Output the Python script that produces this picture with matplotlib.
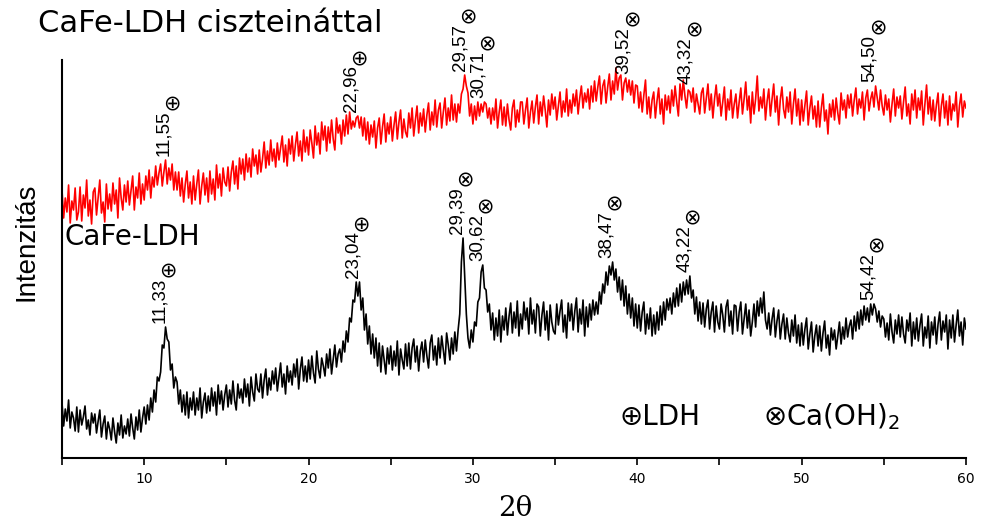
import numpy as np
import matplotlib
matplotlib.use("Agg")
import matplotlib.pyplot as plt
from matplotlib import font_manager as fm

# ---------------- data ----------------
two_theta_start = 5.0
two_theta_end = 60.0

# CaFe-LDH (black), arbitrary intensity, one value every 0.1 deg (5.0 ... 60.0)
ldh = [
    67, 44, 61, 49, 70, 42, 58, 52, 39, 63,
    38, 60, 45, 53, 64, 41, 50, 35, 57, 47,
    56, 37, 49, 60, 33, 46, 54, 31, 48, 41,
    30, 52, 38, 27, 47, 35, 55, 32, 44, 36,
    51, 34, 56, 42, 31, 53, 40, 60, 38, 52,
    63, 46, 65, 50, 72, 58, 80, 68, 93, 89,
    98, 125, 122, 143, 131, 128, 100, 106, 82, 93,
    88, 66, 80, 58, 75, 55, 78, 52, 72, 60,
    78, 55, 72, 60, 82, 52, 68, 77, 57, 74,
    59, 82, 64, 78, 55, 85, 66, 79, 60, 75,
    85, 63, 80, 66, 89, 70, 60, 86, 72, 81,
    67, 91, 73, 86, 64, 93, 78, 69, 96, 81,
    78, 96, 72, 90, 101, 75, 92, 80, 99, 86,
    102, 79, 93, 107, 83, 96, 76, 104, 88, 99,
    85, 106, 93, 111, 81, 101, 113, 89, 104, 88,
    110, 91, 114, 97, 87, 119, 101, 92, 112, 104,
    94, 116, 102, 121, 96, 111, 125, 103, 116, 121,
    108, 129, 118, 139, 128, 152, 148, 170, 168, 188,
    174, 188, 160, 172, 140, 156, 126, 144, 116, 136,
    112, 132, 104, 127, 98, 124, 110, 96, 122, 106,
    124, 100, 119, 104, 129, 95, 121, 110, 101, 126,
    104, 127, 101, 122, 131, 108, 124, 99, 119, 128,
    108, 130, 114, 102, 127, 135, 110, 124, 105, 132,
    112, 134, 120, 106, 137, 125, 110, 132, 116, 138,
    119, 140, 156, 208, 232, 194, 156, 132, 122, 140,
    128, 148, 144, 168, 172, 198, 205, 182, 180, 158,
    166, 140, 157, 130, 152, 134, 160, 128, 154, 140,
    162, 135, 154, 167, 137, 158, 142, 169, 134, 156,
    141, 168, 150, 162, 136, 172, 146, 160, 137, 166,
    163, 134, 155, 168, 140, 159, 130, 165, 148, 139,
    136, 166, 145, 159, 170, 138, 155, 132, 167, 149,
    166, 140, 159, 172, 138, 161, 146, 170, 134, 163,
    143, 166, 150, 170, 155, 168, 156, 178, 166, 186,
    177, 198, 185, 204, 195, 208, 190, 201, 178, 193,
    170, 190, 164, 184, 156, 176, 152, 172, 144, 166,
    142, 165, 139, 158, 168, 136, 156, 141, 162, 134,
    155, 136, 158, 140, 164, 145, 168, 150, 171, 160,
    172, 156, 177, 163, 182, 164, 186, 168, 188, 175,
    190, 176, 194, 172, 180, 156, 173, 149, 168, 146,
    167, 143, 161, 170, 141, 158, 168, 138, 164, 148,
    141, 166, 155, 138, 163, 170, 144, 159, 136, 165,
    164, 139, 158, 168, 136, 151, 166, 142, 160, 134,
    148, 166, 143, 169, 154, 172, 157, 178, 150, 141,
    157, 135, 151, 162, 133, 149, 160, 131, 146, 156,
    131, 152, 137, 128, 150, 134, 155, 127, 145, 124,
    147, 125, 141, 152, 121, 136, 148, 118, 134, 145,
    124, 144, 119, 137, 149, 122, 135, 115, 142, 130,
    140, 121, 134, 148, 126, 143, 131, 152, 133, 144,
    150, 131, 154, 139, 158, 141, 160, 145, 164, 150,
    162, 148, 166, 155, 166, 161, 148, 159, 143, 154,
    151, 133, 147, 130, 156, 138, 127, 150, 136, 155,
    133, 153, 136, 127, 150, 139, 157, 124, 148, 131,
    152, 129, 145, 156, 124, 143, 132, 154, 122, 148,
    135, 153, 126, 146, 158, 130, 149, 138, 155, 121,
    150, 132, 155, 128, 145, 160, 134, 148, 125, 152,
    141,
]

# CaFe-LDH ciszteináttal (red), same grid
ldh_cys = [
    280, 252, 272, 258, 285, 247, 269, 260, 282, 250,
    258, 283, 249, 275, 262, 290, 254, 270, 246, 278,
    282, 255, 272, 290, 257, 268, 248, 286, 261, 276,
    259, 287, 266, 280, 252, 292, 272, 260, 285, 268,
    289, 265, 280, 294, 260, 283, 272, 297, 266, 286,
    270, 294, 280, 300, 272, 293, 283, 304, 285, 297,
    306, 284, 298, 310, 286, 302, 290, 306, 280, 298,
    280, 298, 274, 292, 268, 286, 299, 272, 288, 266,
    294, 270, 286, 300, 266, 284, 297, 275, 292, 268,
    299, 276, 291, 270, 305, 282, 296, 274, 302, 288,
    284, 303, 279, 298, 309, 286, 304, 281, 312, 296,
    311, 290, 316, 298, 312, 293, 321, 304, 315, 296,
    320, 298, 311, 328, 302, 319, 305, 330, 309, 321,
    303, 327, 310, 322, 334, 308, 325, 304, 331, 316,
    334, 309, 325, 338, 314, 329, 309, 340, 318, 333,
    315, 340, 327, 312, 344, 325, 337, 316, 348, 330,
    344, 319, 343, 327, 350, 331, 320, 352, 337, 345,
    326, 350, 334, 355, 336, 358, 341, 349, 343, 352,
    354, 342, 353, 334, 352, 330, 348, 326, 345, 333,
    349, 322, 342, 352, 326, 343, 356, 328, 347, 336,
    353, 329, 345, 358, 331, 348, 360, 332, 351, 338,
    333, 357, 342, 362, 334, 350, 364, 337, 357, 344,
    361, 338, 355, 367, 340, 358, 345, 370, 343, 360,
    367, 342, 358, 372, 345, 362, 349, 375, 350, 366,
    348, 366, 357, 376, 381, 395, 384, 377, 354, 366,
    346, 364, 350, 368, 354, 366, 358, 368, 366, 352,
    362, 346, 362, 350, 371, 342, 358, 370, 345, 363,
    344, 366, 350, 340, 362, 370, 343, 360, 348, 368,
    368, 346, 360, 372, 342, 358, 369, 347, 363, 375,
    346, 368, 354, 374, 360, 343, 370, 355, 376, 361,
    373, 350, 364, 378, 353, 369, 358, 381, 354, 370,
    357, 376, 364, 380, 356, 372, 384, 362, 377, 368,
    381, 361, 384, 368, 389, 369, 383, 394, 366, 384,
    390, 367, 383, 396, 370, 389, 376, 402, 380, 392,
    395, 370, 387, 392, 378, 390, 375, 389, 367, 385,
    384, 362, 378, 358, 375, 390, 356, 373, 352, 370,
    378, 352, 369, 382, 356, 371, 346, 375, 360, 374,
    357, 380, 364, 384, 368, 354, 386, 370, 390, 374,
    362, 380, 378, 368, 382, 358, 376, 366, 356, 377,
    382, 357, 372, 386, 360, 376, 352, 371, 385, 364,
    376, 354, 368, 383, 350, 371, 360, 380, 352, 366,
    376, 352, 368, 382, 356, 371, 388, 360, 374, 347,
    378, 356, 371, 394, 359, 373, 362, 381, 350, 369,
    381, 354, 371, 386, 358, 374, 345, 370, 383, 361,
    352, 373, 358, 378, 346, 366, 381, 354, 371, 345,
    370, 349, 365, 379, 345, 362, 374, 351, 364, 343,
    369, 343, 362, 376, 349, 360, 336, 366, 353, 370,
    350, 372, 357, 346, 377, 360, 370, 352, 375, 362,
    376, 354, 370, 382, 356, 371, 362, 378, 350, 372,
    380, 359, 371, 378, 363, 384, 372, 360, 380, 364,
    355, 375, 360, 371, 348, 366, 381, 354, 373, 362,
    374, 351, 368, 383, 354, 366, 346, 376, 360, 380,
    352, 372, 360, 379, 345, 366, 385, 356, 373, 350,
    370, 349, 365, 377, 344, 364, 376, 352, 369, 345,
    374, 350, 366, 359, 378, 343, 364, 376, 353, 369,
    362,
]

ldh_peaks = ["11,33", "23,04", "29,39", "30,62", "38,47", "43,22", "54,42"]
ldh_phases = ["LDH", "LDH", "CaOH", "CaOH", "CaOH", "CaOH", "CaOH"]
cys_peaks = ["11,55", "22,96", "29,57", "30,71", "39,52", "43,32", "54,50"]
cys_phases = ["LDH", "LDH", "CaOH", "CaOH", "CaOH", "CaOH", "CaOH"]

x_ticks = [10, 20, 30, 40, 50, 60]
x_minor = [5, 15, 25, 35, 45, 55]

symbols = {"LDH": "\u2295", "CaOH": "\u2297"}

# ---------------- fonts ----------------
names = {f.name for f in fm.fontManager.ttflist}
narrow = "Liberation Sans Narrow" if "Liberation Sans Narrow" in names else "Liberation Sans"
label_size = 16 if narrow == "Liberation Sans Narrow" else 13.5
plt.rcParams["font.family"] = ["DejaVu Sans"]

# ---------------- figure ----------------
W, H = 981, 520
fig = plt.figure(figsize=(W / 100, H / 100), dpi=100)
ax = fig.add_axes([62 / W, (H - 458) / H, (966 - 62) / W, (458 - 60) / H])

tt = np.linspace(two_theta_start, two_theta_end, len(ldh))
ax.plot(tt, ldh, color="black", lw=1.2)
ax.plot(tt, ldh_cys, color="red", lw=1.2)

ax.set_xlim(5, 60)
ax.set_ylim(12, 410)
for s in ("top", "right"):
    ax.spines[s].set_visible(False)
for s in ("left", "bottom"):
    ax.spines[s].set_linewidth(1.5)
ax.set_yticks([])
ax.set_xticks(x_ticks)
ax.set_xticks(x_minor, minor=True)
ax.tick_params(axis="x", which="both", direction="out", length=5, width=1.2,
               labelsize=10, pad=5)

# axis labels
fig.text(27 / W, 1 - 242 / H, "Intenzitás", rotation=90, ha="center", va="center",
         fontsize=20, family=["Liberation Sans", "DejaVu Sans"])
fig.text(515 / W, 1 - 508 / H, "2θ", ha="center", va="center", fontsize=20,
         family=["DejaVu Serif"])

# sample names
fig.text(38 / W, 1 - 32 / H, "CaFe-LDH ciszteináttal", ha="left", va="baseline",
         fontsize=22)
fig.text(65 / W, 1 - 245 / H, "CaFe-LDH", ha="left", va="baseline", fontsize=20)

# phase legend
fig.text(620 / W, 1 - 425 / H, "\u2295LDH", ha="left", va="baseline", fontsize=20)
fig.text(763 / W, 1 - 425 / H, "\u2297Ca(OH)$_2$", ha="left", va="baseline", fontsize=20)

# peak labels
texts = []
for series, peaks, phases in ((ldh, ldh_peaks, ldh_phases), (ldh_cys, cys_peaks, cys_phases)):
    arr = np.asarray(series, dtype=float)
    for lab, ph in zip(peaks, phases):
        pos = float(lab.replace(",", "."))
        m = np.abs(tt - pos) <= 0.3
        ymax = arr[m].max()
        t = ax.annotate(lab, xy=(pos, ymax), xytext=(-4.3, 2.9), textcoords="offset points",
                        rotation=90, ha="center", va="bottom", fontsize=label_size,
                        family=[narrow, "DejaVu Sans"])
        texts.append((t, symbols[ph]))

fig.canvas.draw()
r = fig.canvas.get_renderer()
for t, sym in texts:
    bb = t.get_window_extent(r)
    cx = (bb.x0 + bb.x1) / 2 + 8
    cy = bb.y1 + 7
    fig.text(cx / W, cy / H, sym, ha="center", va="center", fontsize=15,
             family=["DejaVu Sans"])

fig.savefig("out.png", dpi=100)
